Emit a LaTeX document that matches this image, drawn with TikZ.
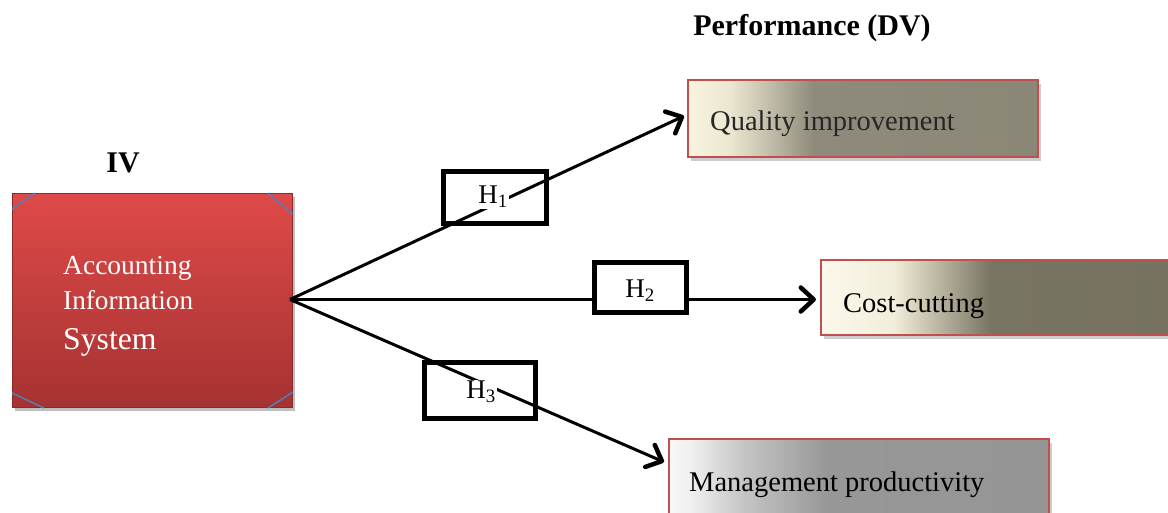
\documentclass[tikz,border=0pt]{standalone}
\usepackage{fontspec}
\setmainfont{Liberation Serif}
\usetikzlibrary{arrows.meta,shadows,calc}
\definecolor{boxred}{HTML}{C0504D}
\definecolor{aistop}{HTML}{DE4A48}
\definecolor{aisbot}{HTML}{A53232}
\definecolor{cornerblue}{HTML}{4F81BD}
\definecolor{qa}{HTML}{F8F4E0}
\definecolor{qb}{HTML}{EBE7D0}
\definecolor{qc}{HTML}{C6C2AE}
\definecolor{qd}{HTML}{8F8B7C}
\definecolor{qe}{HTML}{8B8777}
\definecolor{ca}{HTML}{FBF8EC}
\definecolor{cb}{HTML}{F2EEDB}
\definecolor{cc}{HTML}{C5C1AD}
\definecolor{cd}{HTML}{787462}
\definecolor{ce}{HTML}{767160}
\definecolor{ma}{HTML}{F8F8F8}
\definecolor{mb}{HTML}{EFEFEF}
\definecolor{mc}{HTML}{C4C4C4}
\definecolor{md}{HTML}{979797}
\definecolor{me}{HTML}{959595}
\pgfdeclarehorizontalshading{qshade}{100bp}{color(0bp)=(qa); color(25bp)=(qa); color(31bp)=(qb); color(36bp)=(qc); color(43bp)=(qd); color(75bp)=(qe); color(100bp)=(qe)}
\pgfdeclarehorizontalshading{cshade}{100bp}{color(0bp)=(ca); color(25bp)=(ca); color(35bp)=(cb); color(40bp)=(cc); color(48.5bp)=(cd); color(75bp)=(ce); color(100bp)=(ce)}
\pgfdeclarehorizontalshading{mshade}{100bp}{color(0bp)=(ma); color(25bp)=(ma); color(28bp)=(mb); color(35bp)=(mc); color(46bp)=(md); color(75bp)=(me); color(100bp)=(me)}
\tikzset{
  dvbox/.style={draw=boxred, line width=1.6pt, anchor=north west, inner sep=0pt,
    drop shadow={shadow xshift=3pt, shadow yshift=-4pt, fill=black, opacity=0.2}},
  boxtext/.style={anchor=base west, inner sep=0pt, font=\fontsize{28.5}{34}\selectfont, text=black!85},
  hbox/.style={draw=black, line width=5pt, inner sep=0pt},
  hlabel/.style={fill=white, inner sep=1pt, font=\fontsize{27}{30}\selectfont},
  conn/.style={line width=3pt, -{Straight Barb[length=13pt,width=24pt,line width=4.5pt,round]}},
  heading/.style={font=\fontsize{30}{34}\selectfont\bfseries, inner sep=0pt},
  corner/.style={draw=cornerblue, line width=1.4pt},
  aistext/.style={anchor=base west, inner sep=0pt, text=white},
}
\begin{document}
\begin{tikzpicture}[x=1pt,y=-1pt]
\useasboundingbox[fill=white] (0,0) rectangle (1168,512);
% headings
\node[heading] (perf) at (812,28) {Performance (DV)};
\node[heading] (iv) at (123,163) {IV};
% IV box
\node[anchor=north west, minimum width=280pt, minimum height=214pt, inner sep=0pt,
  top color=aistop, bottom color=aisbot, draw=aisbot!85!black, line width=1pt,
  drop shadow={shadow xshift=2pt, shadow yshift=-3pt, fill=black, opacity=0.25}] (ais) at (12,193) {};
\draw[corner] ($(ais.north west)+(0,16)$) -- ($(ais.north west)+(23,0)$);
\draw[corner] ($(ais.north east)+(-25,0)$) -- ($(ais.north east)+(0,21)$);
\draw[corner] ($(ais.south west)+(0,-15)$) -- ($(ais.south west)+(32,0)$);
\draw[corner] ($(ais.south east)+(-25,0)$) -- ($(ais.south east)+(0,-16)$);
\node[aistext, font=\fontsize{27.5}{30}\selectfont] (ais1) at (63,274) {Accounting};
\node[aistext, font=\fontsize{27.2}{30}\selectfont] (ais2) at (63,309) {Information};
\node[aistext, font=\fontsize{31.7}{34}\selectfont] (ais3) at (63,349) {System};
% DV boxes
\node[dvbox, shading=qshade, minimum width=350pt, minimum height=77pt] (q) at (687,79) {};
\node[boxtext] (qt) at (710,130) {Quality improvement};
\node[dvbox, shading=cshade, minimum width=362pt, minimum height=75pt] (cost) at (820,259) {};
\node[boxtext, text=black] (ct) at (843,312) {Cost-cutting};
\node[dvbox, shading=mshade, minimum width=380pt, minimum height=90pt] (mg) at (668,438) {};
\node[boxtext, text=black] (mt) at (689,491) {Management productivity};
% hypothesis boxes
\node[hbox, minimum width=103pt, minimum height=52pt] (h1) at (494.5,197) {};
\node[hbox, minimum width=111pt, minimum height=56pt] (h3) at (479.5,390) {};
% connectors
\coordinate (src) at ($(ais.east)+(-3,-1)$);
\coordinate (qin) at ($(q.north west)+(-3,37)$);
\coordinate (cin) at (src -| cost.west);
\coordinate (min) at ($(mg.north west)+(-4,24)$);
\draw[conn] (src) -- (qin);
\draw[conn] (src) -- ([xshift=-4pt]cin);
\draw[conn] (src) -- (min);
\node[hbox, fill=white, minimum width=92pt, minimum height=50pt] (h2) at (640,287) {};
\node[hlabel] (h1t) at (493,197) {H\textsubscript{1}};
\node[font=\fontsize{27}{30}\selectfont, inner sep=1pt] (h2t) at (640,291) {H\textsubscript{2}};
\node[hlabel] (h3t) at (481,392) {H\textsubscript{3}};
\end{tikzpicture}
\end{document}
